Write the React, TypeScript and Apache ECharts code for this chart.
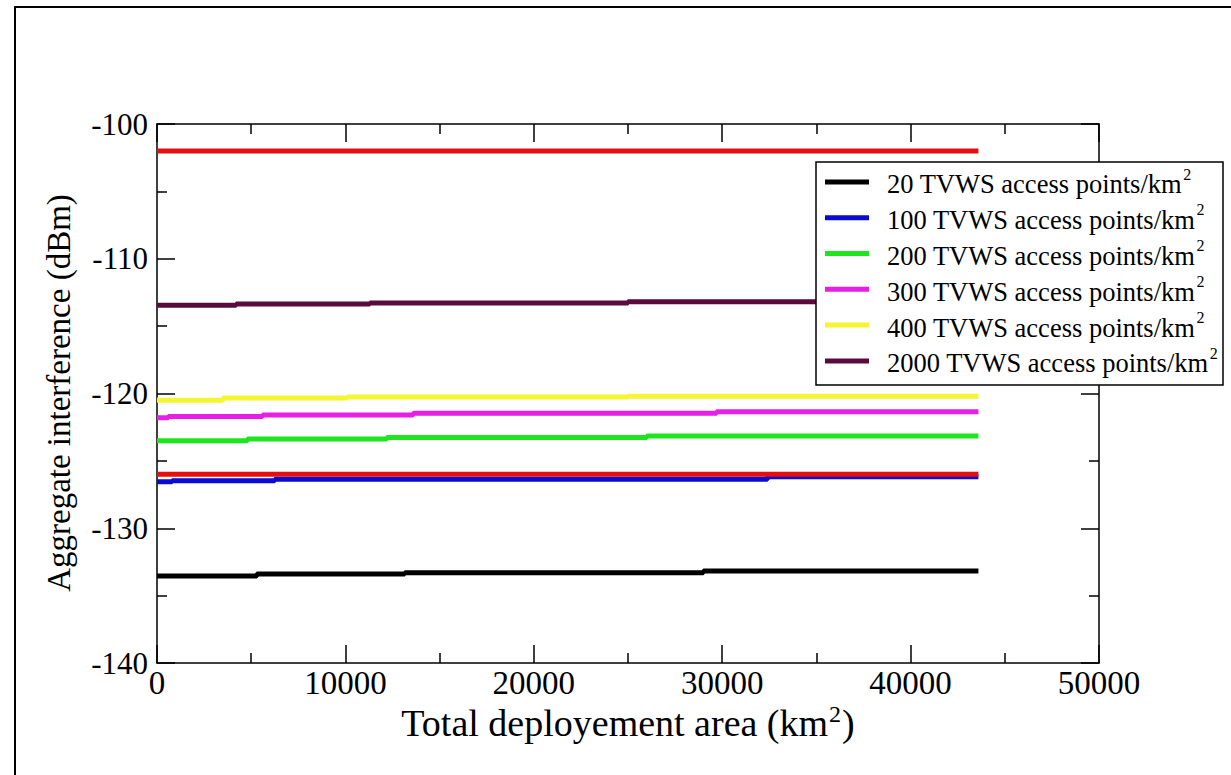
import React, { useEffect, useRef } from "react";
import * as echarts from "echarts";

// ---- data ----
const xMin = 0;
const xMax = 50000;
const yMin = -140;
const yMax = -100;

const names = [
  "20 TVWS access points/km²",
  "100 TVWS access points/km²",
  "200 TVWS access points/km²",
  "300 TVWS access points/km²",
  "400 TVWS access points/km²",
  "2000 TVWS access points/km²",
];
const colors = ["#000000", "#0a0ad2", "#1ee61e", "#e61ee6", "#f5f532", "#5a0a3c"];
const redColor = "#e60f0f";

const ap20X = [0, 5300, 13150, 29000, 43600];
const ap20Y = [-133.55, -133.4, -133.3, -133.17, -133.17];
const ap100X = [0, 800, 6250, 32400, 43600];
const ap100Y = [-126.55, -126.47, -126.37, -126.17, -126.17];
const ap200X = [0, 4800, 12200, 26000, 43600];
const ap200Y = [-123.5, -123.38, -123.27, -123.15, -123.15];
const ap300X = [0, 600, 5600, 13600, 29700, 43600];
const ap300Y = [-121.8, -121.7, -121.6, -121.47, -121.35, -121.35];
const ap400X = [0, 3500, 10100, 25000, 43600];
const ap400Y = [-120.5, -120.33, -120.26, -120.2, -120.2];
const ap2000X = [0, 4200, 11300, 25000, 43600];
const ap2000Y = [-113.45, -113.36, -113.28, -113.2, -113.2];
const redHighX = [0, 43600];
const redHighY = [-102, -102];
const redLowX = [0, 43600];
const redLowY = [-126, -126];

const seriesX = [ap20X, ap100X, ap200X, ap300X, ap400X, ap2000X];
const seriesY = [ap20Y, ap100Y, ap200Y, ap300Y, ap400Y, ap2000Y];

const FONT = "Liberation Serif";

const zip = (xs: number[], ys: number[]) => xs.map((x, i) => [x, ys[i]]);

export default function App() {
  const ref = useRef<HTMLDivElement>(null);
  useEffect(() => {
    if (!ref.current) return;
    const chart = echarts.init(ref.current, undefined, { renderer: "svg" });
    const axisLine = { show: true, onZero: false, lineStyle: { color: "#000", width: 1.5 } };
    const tick = { show: true, inside: true, length: 18, lineStyle: { color: "#000", width: 1.5 } };
    const minor = { show: true, splitNumber: 2, length: 10, lineStyle: { color: "#000", width: 1.5 } };
    const baseX = {
      type: "value",
      min: xMin,
      max: xMax,
      interval: 10000,
      axisLine,
      axisTick: tick,
      minorTick: minor,
      splitLine: { show: false },
      minorSplitLine: { show: false },
    };
    const baseY = {
      type: "value",
      min: yMin,
      max: yMax,
      interval: 10,
      axisLine,
      axisTick: tick,
      minorTick: minor,
      splitLine: { show: false },
      minorSplitLine: { show: false },
    };
    const lineSeries: any[] = names.map((n, i) => ({
      name: n,
      type: "line",
      step: "end",
      showSymbol: false,
      symbol: "none",
      data: zip(seriesX[i], seriesY[i]),
      lineStyle: { width: 5, color: colors[i], cap: "butt" },
      itemStyle: { color: colors[i] },
      z: 2,
    }));
    lineSeries.push({
      name: "Threshold -102 dBm",
      type: "line",
      showSymbol: false,
      symbol: "none",
      data: zip(redHighX, redHighY),
      lineStyle: { width: 5, color: redColor },
      itemStyle: { color: redColor },
      z: 2,
    });
    lineSeries.push({
      name: "Threshold -126 dBm",
      type: "line",
      showSymbol: false,
      symbol: "none",
      data: zip(redLowX, redLowY),
      lineStyle: { width: 5, color: redColor },
      itemStyle: { color: redColor },
      z: 2,
    });

    chart.setOption({
      animation: false,
      backgroundColor: "#ffffff",
      grid: { left: 157, right: 132, top: 124, bottom: 112, containLabel: false },
      xAxis: [
        {
          ...baseX,
          position: "bottom",
          axisLabel: {
            show: true,
            fontFamily: FONT,
            fontSize: 33,
            color: "#000",
            margin: 3,
            formatter: (v: number) => String(v),
          },
        },
        {
          ...baseX,
          position: "top",
          axisLabel: { show: false },
        },
      ],
      yAxis: [
        {
          ...baseY,
          position: "left",
          axisLabel: {
            show: true,
            fontFamily: FONT,
            fontSize: 31,
            color: "#000",
            margin: 9,
            formatter: (v: number) => String(v),
          },
        },
        {
          ...baseY,
          position: "right",
          axisLabel: { show: false },
        },
      ],
      legend: {
        data: names,
        orient: "vertical",
        left: 816,
        top: 162,
        padding: [4, 0, 6, 9],
        itemGap: 4,
        itemWidth: 44,
        itemHeight: 5,
        icon: "rect",
        selectedMode: false,
        z: 10,
        formatter: (name: string) => `{a|${name.replace("²", "")}}{s|2}`,
        textStyle: {
          rich: {
            a: {
              fontFamily: FONT,
              fontSize: 26.5,
              lineHeight: 31.8,
              color: "#000",
              verticalAlign: "bottom",
              padding: [0, 0, 0, 13],
            },
            s: {
              fontFamily: FONT,
              fontSize: 16,
              lineHeight: 16,
              color: "#000",
              verticalAlign: "top",
              padding: [0, 0, 8, 1],
            },
          },
        },
      },
      graphic: [
        {
          type: "rect",
          z: 0,
          shape: { x: 15, y: 7, width: 1400, height: 1000 },
          style: { fill: "none", stroke: "#000", lineWidth: 2 },
          silent: true,
        },
        {
          type: "rect",
          z: 5,
          shape: { x: 816, y: 162, width: 407, height: 223 },
          style: { fill: "#fff", stroke: "#000", lineWidth: 1.5 },
          silent: true,
        },
        {
          type: "text",
          z: 5,
          x: 59,
          y: 393,
          rotation: Math.PI / 2,
          style: {
            text: "Aggregate interference (dBm)",
            fontFamily: FONT,
            fontSize: 33,
            fill: "#000",
            align: "center",
            verticalAlign: "middle",
          },
        },
        {
          type: "text",
          z: 5,
          x: 628,
          y: 722,
          style: {
            text: "{a|Total deployement area (km}{s|2}{a|)}",
            fill: "#000",
            align: "center",
            verticalAlign: "middle",
            rich: {
              a: { fontFamily: FONT, fontSize: 38, lineHeight: 40, verticalAlign: "bottom", fill: "#000" },
              s: {
                fontFamily: FONT,
                fontSize: 24,
                lineHeight: 24,
                verticalAlign: "top",
                padding: [0, 1, 22, 1],
                fill: "#000",
              },
            },
          },
        },
      ],
      series: lineSeries,
    });
    return () => chart.dispose();
  }, []);
  return (
    <div
      ref={ref}
      style={{ position: "fixed", left: 0, top: 0, width: 1231, height: 775, background: "#fff" }}
    />
  );
}
